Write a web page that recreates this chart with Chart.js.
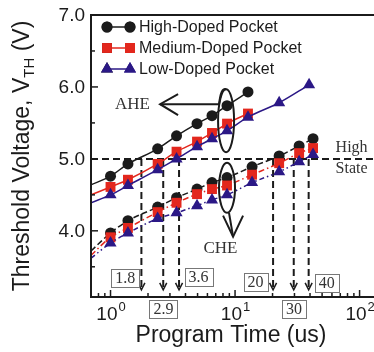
<!DOCTYPE html>
<html lang="en">
<head>
  <meta charset="UTF-8" />
  <title>Threshold Voltage vs Program Time</title>
  <script src="https://cdn.jsdelivr.net/npm/chart.js"></script>
  <style>
    html, body { margin: 0; padding: 0; background: #fff; }
    .wrap { width: 374px; height: 352px; overflow: hidden; }
    canvas { display: block; }
  </style>
</head>
<body>
  <div class="wrap"><canvas id="vthChart" width="392" height="352"></canvas></div>

  <script>
    // program time (us) of the measured points
    const aheTimes = [1.0, 1.38, 2.39, 3.39, 4.95, 6.53, 8.62, 12.7];
    const aheTimesLow = [1.0, 1.38, 2.39, 3.39, 4.95, 6.53, 8.62, 12.7, 22.6, 39.3];
    const cheTimes = [1.0, 1.38, 2.39, 3.39, 4.95, 6.53, 8.62, 13.7, 22.6, 32.7, 42.3];

    // AHE (upper set), V_TH in volts
    const aheHigh = [4.76, 4.93, 5.14, 5.32, 5.49, 5.60, 5.74, 5.93];
    const aheMedium = [4.61, 4.71, 4.93, 5.10, 5.24, 5.36, 5.49, 5.63];
    const aheLow = [4.50, 4.63, 4.85, 5.00, 5.17, 5.28, 5.39, 5.58, 5.78, 6.03];

    // CHE (lower set)
    const cheHigh = [3.97, 4.14, 4.33, 4.46, 4.58, 4.67, 4.74, 4.89, 5.04, 5.18, 5.28];
    const cheMedium = [3.91, 4.04, 4.26, 4.39, 4.51, 4.58, 4.63, 4.78, 4.94, 5.08, 5.15];
    const cheLow = [3.83, 3.97, 4.17, 4.25, 4.35, 4.43, 4.50, 4.67, 4.82, 4.96, 5.06];

    // fitted curves continue to the left edge of the plot
    const edgeTime = 0.697;
    const aheEdge = [4.64, 4.50, 4.39];   // high, medium, low
    const cheEdge = [3.72, 3.66, 3.62];

    // time to reach the 5.0 V high state
    const highStateV = 5.0;
    const crossTimes = [1.77, 2.65, 3.55, 20.2, 29.6, 39.0];
    const crossLabels = ['1.8', '2.9', '3.6', '20', '30', '40'];
    const crossBoxAt = [[1.31, 3.34], [2.66, 2.92], [5.09, 3.36], [14.6, 3.29], [29.7, 2.92], [54.4, 3.28]];

    const yTicks = [4.0, 5.0, 6.0, 7.0];
    const xTicks = [1, 10, 100];

    const BLACK = '#1b1b1b';
    const RED = '#e3271d';
    const BLUE = '#2b1886';
    const SANS = '"Liberation Sans", Arial, sans-serif';
    const SERIF = '"Liberation Serif", "Times New Roman", serif';

    function pts(times, vals, edge) {
      return [{ x: edgeTime, y: edge }].concat(times.map((t, i) => ({ x: t, y: vals[i] })));
    }

    function ds(label, data, color, style, radius, dash, order) {
      return {
        label, data, order,
        borderColor: color,
        backgroundColor: color,
        borderWidth: 1.5,
        borderDash: dash,
        pointStyle: style,
        pointRadius: ctx => ctx.dataIndex === 0 ? 0 : radius,
        pointBorderWidth: 0,
        cubicInterpolationMode: 'monotone'
      };
    }

    const datasets = [
      ds('High-Doped Pocket', pts(aheTimes, aheHigh, aheEdge[0]), BLACK, 'circle', 5.5, [], 3),
      ds('Medium-Doped Pocket', pts(aheTimes, aheMedium, aheEdge[1]), RED, 'rect', 7, [], 2),
      ds('Low-Doped Pocket', pts(aheTimesLow, aheLow, aheEdge[2]), BLUE, 'triangle', 7, [], 1),
      ds('High CHE', pts(cheTimes, cheHigh, cheEdge[0]), BLACK, 'circle', 5.5, [6, 3], 3),
      ds('Medium CHE', pts(cheTimes, cheMedium, cheEdge[1]), RED, 'rect', 7, [6, 3, 1.5, 3], 2),
      ds('Low CHE', pts(cheTimes, cheLow, cheEdge[2]), BLUE, 'triangle', 7, [5, 3, 1.5, 3, 1.5, 3], 1)
    ];

    function vArrow(ctx, x, y, w, h) {
      ctx.beginPath();
      ctx.moveTo(x - w, y - h);
      ctx.lineTo(x, y);
      ctx.lineTo(x + w, y - h);
      ctx.stroke();
    }

    // dashed guide lines go under the data
    const guides = {
      id: 'guides',
      beforeDatasetsDraw(chart) {
        const { ctx, chartArea: a, scales: { x, y } } = chart;
        ctx.save();
        ctx.strokeStyle = BLACK;
        ctx.lineWidth = 2;
        ctx.setLineDash([7, 4]);
        const yh = y.getPixelForValue(highStateV);
        ctx.beginPath();
        ctx.moveTo(a.left, yh);
        ctx.lineTo(a.right, yh);
        ctx.stroke();
        const yEnd = y.getPixelForValue(3.18);
        crossTimes.forEach(t => {
          const px = x.getPixelForValue(t);
          ctx.setLineDash([7, 4]);
          ctx.beginPath();
          ctx.moveTo(px, yh);
          ctx.lineTo(px, yEnd);
          ctx.stroke();
          ctx.setLineDash([]);
          ctx.lineWidth = 1.5;
          vArrow(ctx, px, yEnd, 3.5, 7);
          ctx.lineWidth = 2;
        });
        ctx.restore();
      }
    };

    const decorations = {
      id: 'decorations',
      afterDatasetsDraw(chart) {
        const { ctx, chartArea: a, scales: { x, y } } = chart;
        ctx.save();

        // frame
        ctx.strokeStyle = BLACK;
        ctx.lineWidth = 2;
        ctx.beginPath();
        ctx.moveTo(a.right + 10, a.top);
        ctx.lineTo(a.left, a.top);
        ctx.lineTo(a.left, a.bottom);
        ctx.lineTo(a.right + 10, a.bottom);
        ctx.stroke();

        // y ticks (inside)
        ctx.lineWidth = 1.5;
        for (let v = 3.5; v <= 7.0001; v += 0.5) {
          const py = y.getPixelForValue(v);
          const major = Math.abs(v - Math.round(v)) < 0.01;
          ctx.beginPath();
          ctx.moveTo(a.left, py);
          ctx.lineTo(a.left + (major ? 7 : 4), py);
          ctx.stroke();
        }
        // x ticks (inside)
        for (let d = 0.1; d <= 100; d *= 10) {
          for (let m = 1; m <= 9; m++) {
            const t = d * m;
            if (t < x.min || t > x.max) continue;
            const px = x.getPixelForValue(t);
            ctx.beginPath();
            ctx.moveTo(px, a.bottom);
            ctx.lineTo(px, a.bottom - (m === 1 ? 7 : 4));
            ctx.stroke();
          }
        }

        // tick labels
        ctx.fillStyle = BLACK;
        ctx.font = '19px ' + SANS;
        ctx.textAlign = 'right';
        ctx.textBaseline = 'middle';
        yTicks.forEach(v => ctx.fillText(v.toFixed(1), a.left - 6, y.getPixelForValue(v) + 1));
        ctx.textBaseline = 'alphabetic';
        xTicks.forEach(t => {
          const px = x.getPixelForValue(t);
          const exp = String(Math.round(Math.log10(t)));
          ctx.font = '19px ' + SANS;
          const wb = ctx.measureText('10').width;
          ctx.font = '13px ' + SANS;
          const we = ctx.measureText(exp).width;
          const left = px - (wb + we) / 2;
          ctx.textAlign = 'left';
          ctx.font = '19px ' + SANS;
          ctx.fillText('10', left, 320);
          ctx.font = '13px ' + SANS;
          ctx.fillText(exp, left + wb + 1, 311);
        });

        // axis titles
        ctx.font = '23px ' + SANS;
        ctx.textAlign = 'center';
        ctx.fillText('Program Time (us)', 231, 342);

        ctx.save();
        ctx.translate(29, 156);
        ctx.rotate(-Math.PI / 2);
        ctx.textAlign = 'left';
        ctx.font = '23px ' + SANS;
        const p1 = 'Threshold Voltage, V', p3 = ' (V)';
        const w1 = ctx.measureText(p1).width, w3 = ctx.measureText(p3).width;
        ctx.font = '15px ' + SANS;
        const w2 = ctx.measureText('TH').width;
        let sx = -(w1 + w2 + w3) / 2;
        ctx.font = '23px ' + SANS;
        ctx.fillText(p1, sx, 0);
        ctx.font = '15px ' + SANS;
        ctx.fillText('TH', sx + w1, 5);
        ctx.font = '23px ' + SANS;
        ctx.fillText(p3, sx + w1 + w2, 0);
        ctx.restore();

        // AHE: ellipse + arrow to the left
        ctx.lineWidth = 2;
        ctx.setLineDash([]);
        const ex1 = x.getPixelForValue(8.47), ey1 = y.getPixelForValue(5.53);
        ctx.beginPath();
        ctx.ellipse(ex1, ey1, 8, 31.5, 0, 0, Math.PI * 2);
        ctx.stroke();
        const tipX = x.getPixelForValue(2.5), tipY = y.getPixelForValue(5.76);
        ctx.beginPath();
        ctx.moveTo(tipX, tipY);
        ctx.lineTo(ex1 - 7, tipY);
        ctx.quadraticCurveTo(ex1 - 5, ey1 - 34, ex1, ey1 - 31.5);
        ctx.stroke();
        ctx.beginPath();
        ctx.moveTo(tipX + 18, tipY - 10);
        ctx.lineTo(tipX, tipY);
        ctx.lineTo(tipX + 18, tipY + 11);
        ctx.stroke();

        // CHE: ellipse + arrow down
        const ex2 = x.getPixelForValue(8.62), ey2 = y.getPixelForValue(4.597);
        ctx.beginPath();
        ctx.ellipse(ex2, ey2, 8, 25, 0, 0, Math.PI * 2);
        ctx.stroke();
        const ax = x.getPixelForValue(9.64);
        const ay = y.getPixelForValue(3.92);
        ctx.beginPath();
        ctx.moveTo(ex2 + 2, ey2 + 25);
        ctx.lineTo(ax, ay);
        ctx.stroke();
        vArrow(ctx, ax, ay, 10, 21);

        ctx.font = '17px ' + SERIF;
        ctx.textAlign = 'center';
        ctx.textBaseline = 'middle';
        ctx.fillStyle = '#333';
        ctx.fillText('AHE', x.getPixelForValue(1.5), y.getPixelForValue(5.75));
        ctx.fillText('CHE', x.getPixelForValue(7.64), y.getPixelForValue(3.75));
        ctx.font = '16px ' + SERIF;
        ctx.fillText('High', x.getPixelForValue(86.3), y.getPixelForValue(5.15));
        ctx.fillText('State', x.getPixelForValue(86.3), y.getPixelForValue(4.86));

        // boxed crossing times
        ctx.font = '16px ' + SERIF;
        ctx.strokeStyle = '#777';
        ctx.lineWidth = 1;
        crossLabels.forEach((lab, i) => {
          const bx = x.getPixelForValue(crossBoxAt[i][0]);
          const by = y.getPixelForValue(crossBoxAt[i][1]);
          const w = ctx.measureText(lab).width + 8;
          ctx.fillStyle = '#fff';
          ctx.fillRect(bx - w / 2, by - 9, w, 18);
          ctx.strokeRect(Math.round(bx - w / 2) + 0.5, Math.round(by - 9) + 0.5, Math.round(w), 18);
          ctx.fillStyle = '#333';
          ctx.fillText(lab, bx, by + 1);
        });

        // legend
        const rows = [
          { label: 'High-Doped Pocket', ds: datasets[0], y: 27 },
          { label: 'Medium-Doped Pocket', ds: datasets[1], y: 48 },
          { label: 'Low-Doped Pocket', ds: datasets[2], y: 69 }
        ];
        rows.forEach(r => {
          const c = r.ds.borderColor;
          ctx.strokeStyle = c;
          ctx.lineWidth = 1.5;
          ctx.beginPath();
          ctx.moveTo(107, r.y);
          ctx.lineTo(130, r.y);
          ctx.stroke();
          const rad = r.ds.pointStyle === 'circle' ? 5.5 : 7;
          [107, 130].forEach(px => {
            Chart.helpers.drawPoint(ctx, { pointStyle: r.ds.pointStyle, radius: rad, rotation: 0, borderWidth: 0 }, px, r.y);
            ctx.fillStyle = c;
            ctx.fill();
          });
          ctx.fillStyle = BLACK;
          ctx.font = '16px ' + SANS;
          ctx.textAlign = 'left';
          ctx.textBaseline = 'middle';
          ctx.fillText(r.label, 139, r.y + 1);
        });

        ctx.restore();
      }
    };

    new Chart(document.getElementById('vthChart'), {
      type: 'line',
      data: { datasets },
      options: {
        responsive: false,
        animation: false,
        devicePixelRatio: 1,
        layout: { padding: { top: 15, right: 7, left: 0, bottom: 0 } },
        plugins: { legend: { display: false }, tooltip: { enabled: false } },
        scales: {
          x: {
            type: 'logarithmic',
            min: edgeTime,
            max: 160,
            grid: { display: false },
            border: { display: false },
            ticks: { display: false },
            afterFit: s => { s.height = 55; }
          },
          y: {
            min: 3.08,
            max: 7.0,
            grid: { display: false },
            border: { display: false },
            ticks: { display: false },
            afterFit: s => { s.width = 91; }
          }
        }
      },
      plugins: [guides, decorations]
    });
  </script>
</body>
</html>
